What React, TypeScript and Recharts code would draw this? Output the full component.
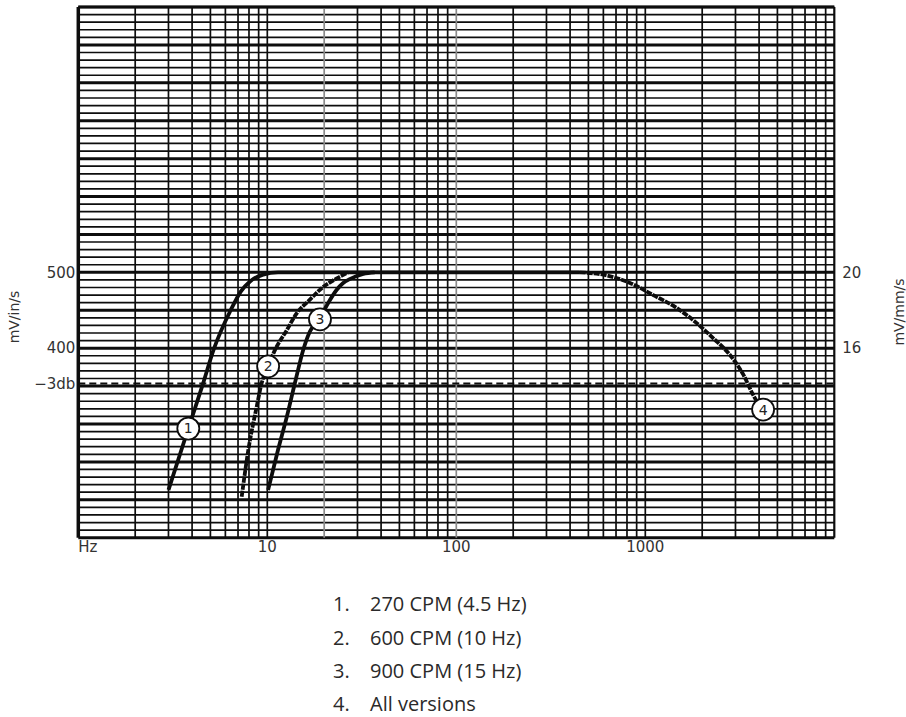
import { LineChart, Line, XAxis, YAxis, ReferenceLine, ReferenceDot } from "recharts"

// frequency response, mV/in/s against Hz (log)
const c1Hz = [3.0, 3.82, 4.58, 5.2, 6.4, 7.25, 8.1, 9.5, 11.4, 100, 450]
const c1Mv = [213, 294, 354, 398, 450, 475, 488, 497, 500, 500, 500]

const c2Hz = [7.32, 7.94, 8.79, 9.34, 10.1, 11.0, 12.7, 14.3, 16.8, 19.8, 23.3, 26.8]
const c2Mv = [204, 266, 323, 354, 376, 398, 424, 446, 464, 481, 492, 500]

const c3Hz = [10.1, 11.4, 12.7, 14.0, 15.5, 16.8, 19.0, 20.6, 23.3, 25.2, 27.3, 32.2, 37.0]
const c3Mv = [213, 266, 310, 354, 398, 422, 440, 456, 477, 486, 491, 498, 500]

const c4Hz = [450, 625, 830, 1102, 1466, 1871, 2291, 2806, 3302, 3726, 4130]
const c4Mv = [500, 496, 486, 470, 453, 433, 413, 391, 365, 338, 320]

// circled callouts sitting on the curves
const calloutNums = ["1", "2", "3", "4"]
const calloutHz = [3.82, 10.1, 19.0, 4200]
const calloutMv = [294, 376, 438, 319]

const xTicks = [1, 10, 100, 1000]
const xTickLabels = ["Hz", "10", "100", "1000"]
const yTicks = [353.55, 400, 500]
const yTickLabels = ["−3db", "400", "500"]
const rightTicks = [16, 20]

const legendItems = ["270 CPM (4.5 Hz)", "600 CPM (10 Hz)", "900 CPM (15 Hz)", "All versions"]

const zip = (hz: number[], mv: number[]) => hz.map((h, i) => ({ hz: h, mv: mv[i] }))

const decades = [1, 10, 100, 1000]
const mantissas = [1, 2, 3, 4, 5, 6, 7, 8, 9]
const vGrid = decades.flatMap((d) => mantissas.map((m) => m * d)).concat([10000])
const hGrid: number[] = []
for (let v = 150; v <= 850; v += 10) hGrid.push(v)

const axisFont = { fontSize: 15, fontFamily: "DejaVu Sans", fill: "#333" }
const ink = "#0d0d0d"

function XTick({ x, y, payload }: any) {
  const i = xTicks.indexOf(payload.value)
  return (
    <text x={x} y={y} dy="0.71em" textAnchor={i === 0 ? "start" : "middle"} {...axisFont}>
      {xTickLabels[i]}
    </text>
  )
}

function Title({ text, cx, cy }: { text: string; cx: number; cy: number }) {
  return (
    <div
      style={{
        position: "absolute", left: cx, top: cy,
        transform: "translate(-50%, -50%) rotate(-90deg)",
        whiteSpace: "nowrap", fontFamily: "DejaVu Sans", fontSize: 14, color: "#333",
      }}
    >
      {text}
    </div>
  )
}

export default function App() {
  return (
    <div style={{ position: "absolute", left: 0, top: 0, width: 906, height: 717, background: "#fff" }}>
      <LineChart width={906} height={560} margin={{ top: 7, right: 11.7, bottom: 2.3, left: 8.3 }}>
        <XAxis
          type="number" dataKey="hz" scale="log" domain={[1, 10000]} allowDataOverflow
          ticks={xTicks} interval={0} height={20}
          axisLine={false} tickLine={false} tickSize={0} tickMargin={4}
          tick={<XTick />}
        />
        <YAxis
          type="number" domain={[150, 850]} allowDataOverflow width={70}
          ticks={yTicks} interval={0}
          axisLine={false} tickLine={false} tickSize={1} tickMargin={2}
          tick={axisFont}
          tickFormatter={(v: number) => yTickLabels[yTicks.indexOf(v)]}
        />
        <YAxis
          yAxisId="r" orientation="right" type="number" domain={[6, 34]} allowDataOverflow width={60}
          ticks={rightTicks} interval={0}
          axisLine={false} tickLine={false} tickSize={0} tickMargin={8}
          tick={axisFont}
        />

        {hGrid.map((v) => (
          <ReferenceLine
            key={"h" + v} y={v} stroke={ink}
            strokeWidth={v === 150 || v % 50 === 0 ? 3 : 1.7}
          />
        ))}
        {vGrid.map((v) => (
          <ReferenceLine
            key={"v" + v} x={v}
            stroke={v === 20 || v === 100 ? "#8a8a8a" : ink}
            strokeWidth={v === 1 ? 3.5 : v === 10000 ? 2.2 : 1.7}
          />
        ))}
        <ReferenceLine y={850} stroke={ink} strokeWidth={2.5} />
        <ReferenceLine y={353.55} stroke={ink} strokeWidth={2} strokeDasharray="7 4" />

        <Line data={zip(c1Hz, c1Mv)} dataKey="mv" type="monotone" stroke={ink} strokeWidth={3.8} dot={false} isAnimationActive={false} />
        <Line data={zip(c2Hz, c2Mv)} dataKey="mv" type="monotone" stroke={ink} strokeWidth={3.8} strokeDasharray="6 1" dot={false} isAnimationActive={false} />
        <Line data={zip(c3Hz, c3Mv)} dataKey="mv" type="monotone" stroke={ink} strokeWidth={3.8} dot={false} isAnimationActive={false} />
        <Line data={zip(c4Hz, c4Mv)} dataKey="mv" type="monotone" stroke={ink} strokeWidth={3.8} strokeDasharray="6 1" dot={false} isAnimationActive={false} />

        {calloutNums.map((n, i) => (
          <ReferenceDot
            key={"c" + n} x={calloutHz[i]} y={calloutMv[i]} r={11}
            fill="#fff" stroke={ink} strokeWidth={1.8}
            label={{ value: n, position: "center", fontSize: 14, fontFamily: "DejaVu Sans", fill: "#222" }}
          />
        ))}
      </LineChart>

      <Title text="mV/in/s" cx={14} cy={317} />
      <Title text="mV/mm/s" cx={899} cy={312} />

      {legendItems.map((t, i) => (
        <div
          key={t}
          style={{
            position: "absolute", left: 333, top: 605 + i * 33.3 - 14.6,
            fontFamily: "Open Sans", fontSize: 20, lineHeight: "28px", color: "#2a2a2a",
            whiteSpace: "nowrap",
          }}
        >
          <span style={{ display: "inline-block", width: 37 }}>{i + 1}.</span>
          {t}
        </div>
      ))}
    </div>
  )
}
